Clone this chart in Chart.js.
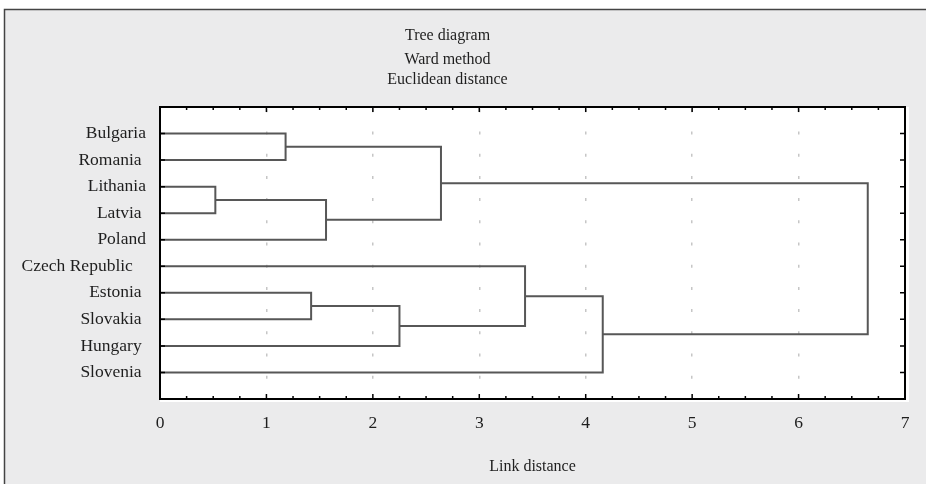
<!DOCTYPE html>
<html>
<head>
<meta charset="utf-8">
<title>Tree diagram</title>
<script src="https://cdn.jsdelivr.net/npm/chart.js@4.4.0/dist/chart.umd.min.js"></script>
<style>
  body { margin: 0; background: #fff; }
  canvas { display: block; }
</style>
</head>
<body>
<canvas id="treeDiagram" width="926" height="484"></canvas>
<script>
const countries = [
  "Bulgaria",
  "Romania ",
  "Lithania",
  "Latvia ",
  "Poland",
  "Czech Republic   ",
  "Estonia ",
  "Slovakia ",
  "Hungary ",
  "Slovenia ",
];

// nodes 0-9 are the countries, merge i creates node 10 + i
const mergeLeft = [2, 0, 6, 10, 12, 11, 5, 16, 15];
const mergeRight = [3, 1, 7, 4, 8, 13, 14, 9, 17];
const mergeHeight = [0.52, 1.18, 1.42, 1.56, 2.25, 2.64, 3.43, 4.16, 6.65];

const distanceMin = 0;
const distanceMax = 7;

const serif = "'Liberation Serif', 'Times New Roman', serif";
const textColor = "#1e1e1e";

// position of every node: leaves on their row, merges halfway between children
const nodeY = countries.map((c, i) => i);
const nodeH = countries.map(() => 0);
mergeLeft.forEach((a, i) => {
  const b = mergeRight[i];
  nodeY.push((nodeY[a] + nodeY[b]) / 2);
  nodeH.push(mergeHeight[i]);
});

const datasets = mergeLeft.map((a, i) => {
  const b = mergeRight[i];
  const h = mergeHeight[i];
  return {
    data: [
      { x: nodeH[a], y: nodeY[a] },
      { x: h, y: nodeY[a] },
      { x: h, y: nodeY[b] },
      { x: nodeH[b], y: nodeY[b] },
    ],
    borderColor: "#575757",
    borderWidth: 2,
    borderCapStyle: "butt",
    borderJoinStyle: "miter",
    pointRadius: 0,
    tension: 0,
    fill: false,
  };
});

const framePlugin = {
  id: "frame",
  beforeDraw(chart) {
    const { ctx, chartArea: a, width, height } = chart;
    ctx.save();
    ctx.fillStyle = "#ebebec";
    ctx.fillRect(4, 9, width, height);
    ctx.strokeStyle = "#444";
    ctx.lineWidth = 1.5;
    ctx.beginPath();
    ctx.moveTo(4.5, height);
    ctx.lineTo(4.5, 9.5);
    ctx.lineTo(width, 9.5);
    ctx.stroke();
    // plot background, a bit wider than the frame
    ctx.fillStyle = "#fff";
    ctx.fillRect(a.left, a.top, a.width + 4, a.height + 3);
    ctx.restore();
  },
  afterDatasetsDraw(chart) {
    const { ctx, chartArea: a, scales } = chart;
    const x = scales.x;
    const y = scales.y;
    ctx.save();
    ctx.strokeStyle = "#000";
    ctx.lineWidth = 2;
    ctx.strokeRect(a.left, a.top, a.width, a.height);

    // inward ticks
    ctx.lineWidth = 1.5;
    ctx.beginPath();
    for (let v = x.min; v <= x.max; v += 0.25) {
      const px = x.getPixelForValue(v);
      const len = Number.isInteger(v) ? 5 : 3;
      ctx.moveTo(px, a.bottom);
      ctx.lineTo(px, a.bottom - len);
      ctx.moveTo(px, a.top);
      ctx.lineTo(px, a.top + len);
    }
    countries.forEach((c, i) => {
      const py = y.getPixelForValue(i);
      ctx.moveTo(a.left, py);
      ctx.lineTo(a.left + 5, py);
      ctx.moveTo(a.right, py);
      ctx.lineTo(a.right - 5, py);
    });
    ctx.stroke();
    ctx.restore();
  },
};

new Chart(document.getElementById("treeDiagram"), {
  type: "line",
  data: { datasets },
  options: {
    responsive: false,
    animation: false,
    layout: {
      padding: { left: -10, right: 21, top: 0, bottom: 7.6 },
    },
    plugins: {
      legend: { display: false },
      tooltip: { enabled: false },
      title: {
        display: true,
        text: "Tree diagram",
        color: textColor,
        font: { family: serif, size: 16, weight: "normal" },
        padding: { top: 26, bottom: 5 },
      },
      subtitle: {
        display: true,
        text: ["Ward method", "Euclidean distance"],
        color: textColor,
        font: { family: serif, size: 16, weight: "normal", lineHeight: 1.25 },
        padding: { top: 0, bottom: 16.8 },
      },
    },
    scales: {
      x: {
        type: "linear",
        min: distanceMin,
        max: distanceMax,
        ticks: {
          stepSize: 1,
          padding: 14.3,
          color: textColor,
          font: { family: serif, size: 17.5 },
        },
        grid: {
          drawTicks: false,
          lineWidth: 1.5,
          color: (c) =>
            c.tick && c.tick.value > distanceMin && c.tick.value < distanceMax
              ? "#c6c6c6"
              : "transparent",
        },
        border: { display: false, dash: [3, 19.2], dashOffset: -2.3 },
        title: {
          display: true,
          text: "Link distance",
          color: textColor,
          font: { family: serif, size: 16 },
          padding: { top: 8.6, bottom: 0 },
        },
      },
      y: {
        type: "linear",
        reverse: true,
        min: -1,
        max: countries.length,
        afterFit: (scale) => {
          scale.width = 170;
        },
        ticks: {
          stepSize: 1,
          autoSkip: false,
          padding: 14,
          color: textColor,
          font: { family: serif, size: 17.5 },
          callback: (v) => countries[v] ?? "",
        },
        grid: { display: false, drawTicks: false },
        border: { display: false },
      },
    },
  },
  plugins: [framePlugin],
});
</script>
</body>
</html>
